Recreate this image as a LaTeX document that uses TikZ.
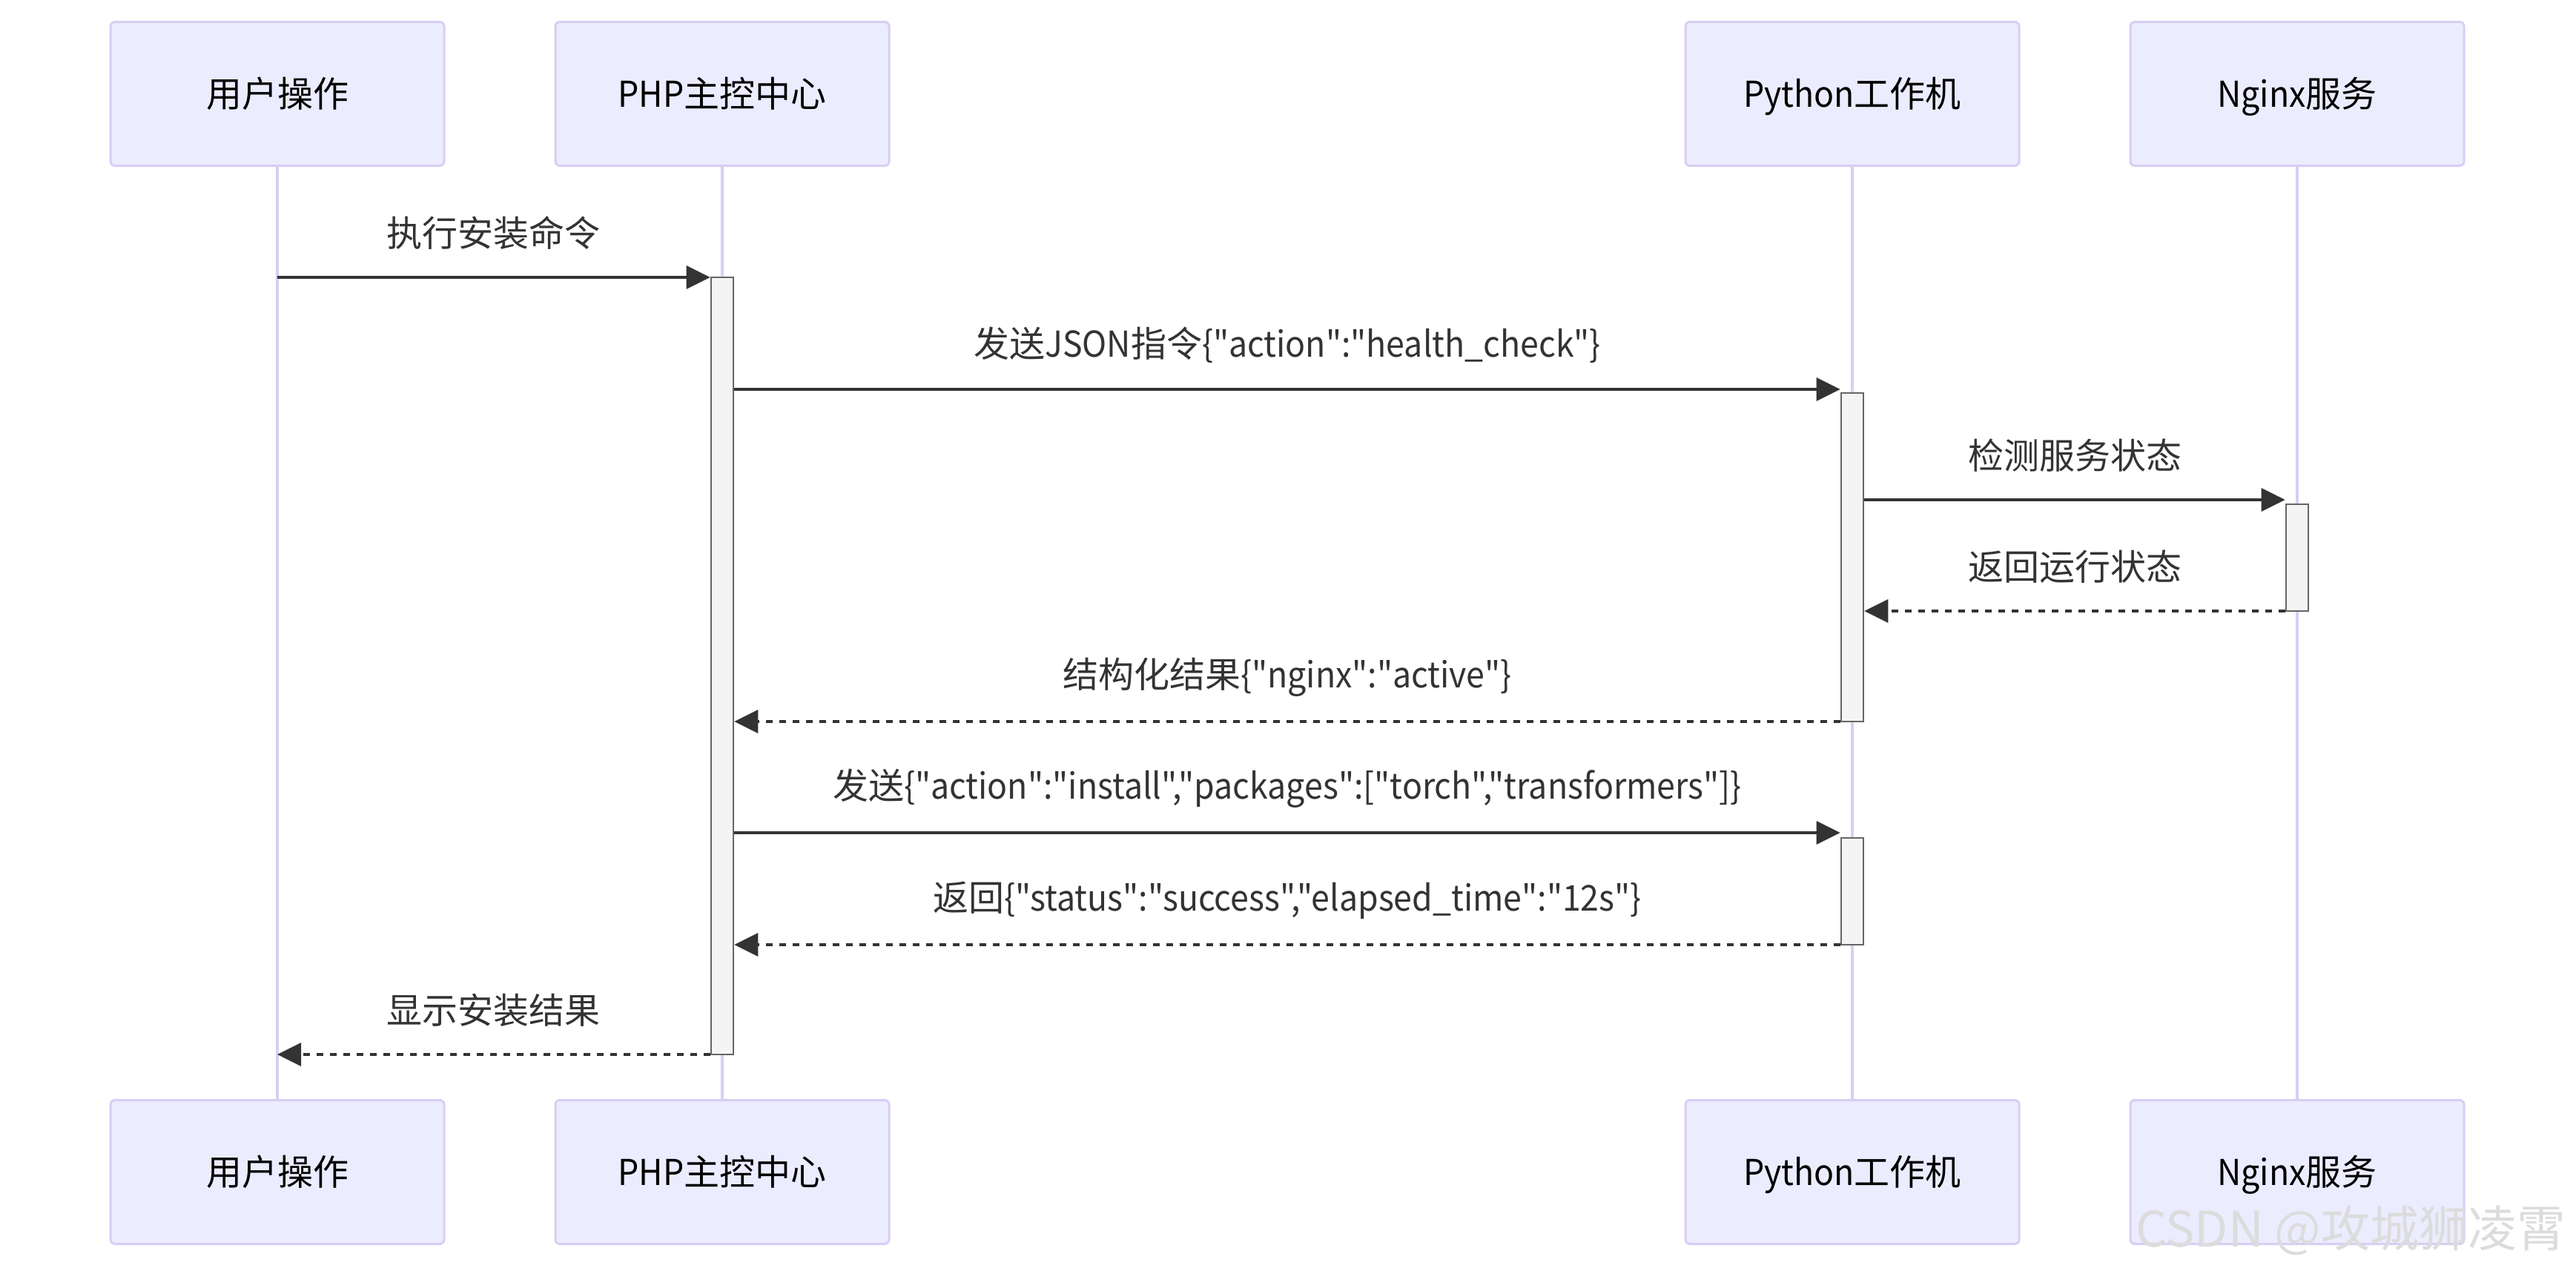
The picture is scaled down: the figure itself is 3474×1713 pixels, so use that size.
\documentclass[tikz,border=0pt]{standalone}
\usepackage{fontspec}
\newfontfamily\cjk{Noto Sans CJK SC}
\newfontfamily\latn{Noto Sans CJK SC}[FakeStretch=0.93]
\newcommand\lt[1]{{\latn #1}}
\usetikzlibrary{arrows.meta}
\definecolor{actfill}{HTML}{ECECFF}
\definecolor{actline}{HTML}{D8CEF3}
\definecolor{msg}{HTML}{333333}
\definecolor{actvfill}{HTML}{F4F4F4}
\definecolor{actvline}{HTML}{666666}
\definecolor{wmcol}{HTML}{DCDCDC}
\begin{document}
\begin{tikzpicture}[x=0.5pt,y=-0.5pt,
  actor/.style={draw=actline, fill=actfill, line width=1.5pt, rounded corners=3pt,
    minimum width=225pt, minimum height=97pt, inner sep=0pt,
    font=\cjk\fontsize{24}{28}\selectfont, text=black, text depth=2pt},
  lifeline/.style={draw=actline, line width=2.2pt},
  activ/.style={draw=actvline, fill=actvfill, line width=1.3pt, minimum width=15pt, inner sep=0pt},
  call/.style={draw=msg, line width=1.8pt, -{Triangle[length=16pt,width=15.5pt]}},
  reply/.style={call, dash pattern=on 4.5pt off 4.5pt},
  lbl/.style={font=\cjk\fontsize{24}{28}\selectfont, text=msg, inner sep=0pt}
]
\useasboundingbox[fill=white] (0,0) rectangle (3474,1713);

% actors
\node[actor] (uT) at (374,126.5) {用户操作};
\node[actor] (pT) at (974,126.5) {\lt{PHP}主控中心};
\node[actor] (yT) at (2498,126.5) {\lt{Python}工作机};
\node[actor] (nT) at (3098,126.5) {\lt{Nginx}服务};
\node[actor] (uB) at (374,1580.5) {用户操作};
\node[actor] (pB) at (974,1580.5) {\lt{PHP}主控中心};
\node[actor] (yB) at (2498,1580.5) {\lt{Python}工作机};
\node[actor] (nB) at (3098,1580.5) {\lt{Nginx}服务};

% lifelines
\draw[lifeline] (uT.south) -- (uB.north);
\draw[lifeline] (pT.south) -- (pB.north);
\draw[lifeline] (yT.south) -- (yB.north);
\draw[lifeline] (nT.south) -- (nB.north);

% activations
\node[activ, minimum height=524pt] (aP) at (974,898) {};
\node[activ, minimum height=221.5pt] (aY1) at (2498,751.5) {};
\node[activ, minimum height=72pt] (aN) at (3098,752) {};
\node[activ, minimum height=72pt] (aY2) at (2498,1202) {};

% message rows
\coordinate (m1) at (0,374);
\coordinate (m2) at (0,525);
\coordinate (m3) at (0,674);
\coordinate (m4) at (0,824);
\coordinate (m5) at (0,973);
\coordinate (m6) at (0,1123);
\coordinate (m7) at (0,1274);
\coordinate (m8) at (0,1422);

\draw[call] (uT.south |- m1) -- (aP.west |- m1)
  node[lbl, midway, yshift=30pt] (l1) {执行安装命令};
\draw[call] (aP.east |- m2) -- (aY1.west |- m2)
  node[lbl, midway, yshift=30pt] (l2) {发送\lt{JSON}指令\lt{\{"action":"health\_check"\}}};
\draw[call] (aY1.east |- m3) -- (aN.west |- m3)
  node[lbl, midway, yshift=30pt] (l3) {检测服务状态};
\draw[reply] (aN.west |- m4) -- (aY1.east |- m4)
  node[lbl, midway, yshift=30pt] (l4) {返回运行状态};
\draw[reply] (aY1.west |- m5) -- (aP.east |- m5)
  node[lbl, midway, yshift=30pt] (l5) {结构化结果\lt{\{"nginx":"active"\}}};
\draw[call] (aP.east |- m6) -- (aY2.west |- m6)
  node[lbl, midway, yshift=30pt] (l6) {发送\lt{\{"action":"install","packages":["torch","transformers"]\}}};
\draw[reply] (aY2.west |- m7) -- (aP.east |- m7)
  node[lbl, midway, yshift=30pt] (l7) {返回\lt{\{"status":"success","elapsed\_time":"12s"\}}};
\draw[reply] (aP.west |- m8) -- (uT.south |- m8)
  node[lbl, midway, yshift=30pt] (l8) {显示安装结果};

% watermark
\node[font=\cjk\fontsize{33}{33}\selectfont, text=wmcol, inner sep=0pt] (wm) at (3170,1659) {CSDN @攻城狮凌霄};
\end{tikzpicture}
\end{document}
